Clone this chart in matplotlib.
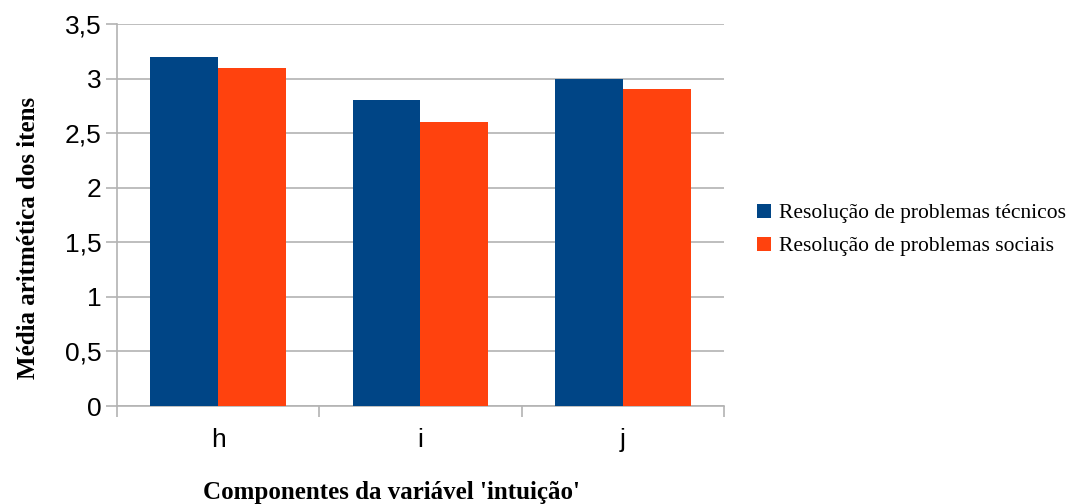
import numpy as np
import matplotlib.pyplot as plt

# dados
categorias = ['h', 'i', 'j']
tecnicos = [3.2, 2.8, 3.0]
sociais = [3.1, 2.6, 2.9]
series = ['Resolução de problemas técnicos', 'Resolução de problemas sociais']

azul = '#004586'
laranja = '#ff420e'
cinza = '#b3b3b3'

fig = plt.figure(figsize=(10.76, 5.04), dpi=100)
ax = fig.add_axes([117 / 1076, 98 / 504, 607 / 1076, 382 / 504])

x = np.arange(len(categorias))
w = 0.336
b1 = ax.bar(x - w / 2, tecnicos, w, color=azul, zorder=3)
b2 = ax.bar(x + w / 2, sociais, w, color=laranja, zorder=3)

ax.set_xlim(-0.5, len(categorias) - 0.5)
ax.set_ylim(0, 3.5)
ax.set_yticks(np.arange(0, 3.51, 0.5))
ax.set_yticklabels([f'{v:g}'.replace('.', ',') for v in np.arange(0, 3.51, 0.5)])
ax.grid(axis='y', color=cinza, linewidth=1.2, zorder=0)

# marcas nas fronteiras das categorias, rótulos no centro
ax.set_xticks(np.arange(-0.5, len(categorias), 1.0))
ax.set_xticklabels([])
ax.set_xticks(x, minor=True)
ax.set_xticklabels(categorias, minor=True)
ax.tick_params(axis='x', which='major', length=8, color=cinza, width=1.2)
ax.tick_params(axis='x', which='minor', length=0, pad=16, labelsize=19)
ax.tick_params(axis='y', length=8, color=cinza, width=1.2, labelsize=19, pad=3)

for lado in ['top', 'right']:
    ax.spines[lado].set_visible(False)
for lado in ['left', 'bottom']:
    ax.spines[lado].set_color(cinza)
    ax.spines[lado].set_linewidth(1.2)

for t in ax.get_xticklabels(minor=True) + ax.get_yticklabels():
    t.set_fontfamily('Liberation Sans')

xl = ax.set_xlabel("Componentes da variável 'intuição'", fontfamily='Liberation Serif',
                   fontweight='bold', fontsize=18)
yl = ax.set_ylabel('Média aritmética dos itens', fontfamily='Liberation Serif',
                   fontweight='bold', fontsize=18)
xl.set_va('center')
yl.set_va('center')
ax.xaxis.set_label_coords((392 - 117) / 607, (406 - 492) / 382)
ax.yaxis.set_label_coords((28 - 117) / 607, (406 - 238) / 382)

fig.legend([b1, b2], series, loc='center left', bbox_to_anchor=(738 / 1076, 1 - 230 / 504),
           frameon=False, prop={'family': 'Liberation Serif', 'size': 15.5},
           handlelength=0.65, handleheight=0.65, handletextpad=0.35, labelspacing=0.62)

fig.savefig('out.png', dpi=100)
